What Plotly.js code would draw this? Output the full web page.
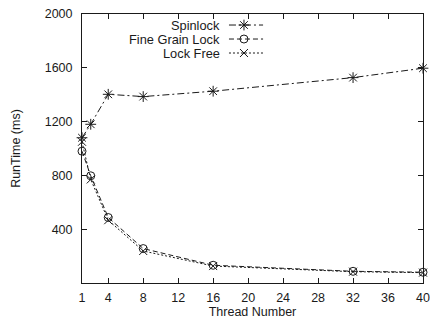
<!DOCTYPE html>
<html>
<head>
<meta charset="utf-8">
<script src="https://cdn.plot.ly/plotly-3.0.1.min.js"></script>
<style>html,body{margin:0;padding:0;background:#fff;}#chart{width:430px;height:323px;}</style>
</head>
<body>
<div id="chart"></div>
<script>
const threads = [1, 2, 4, 8, 16, 32, 40];
const spinlock = [1080, 1180, 1403, 1386, 1426, 1527, 1597];
const fineGrain = [980, 797, 487, 256, 132, 87, 80];
const lockFree = [1050, 770, 467, 238, 126, 84, 77];
const seriesNames = ['Spinlock', 'Fine Grain Lock', 'Lock Free'];
const xTicks = [1, 4, 8, 12, 16, 20, 24, 28, 32, 36, 40];
const yTicks = [400, 800, 1200, 1600, 2000];

const font = 'Liberation Sans, Arial, Helvetica, sans-serif';
const ink = '#1a1a1a';
const styles = [
  {dash: '7px,3px,2px,3px', symbol: 'asterisk-open', size: 9},
  {dash: '5px,3px', symbol: 'circle-open', size: 8},
  {dash: '2px,2px', symbol: 'x-thin-open', size: 8}
];
const values = [spinlock, fineGrain, lockFree];

const traces = values.map((v, i) => ({
  x: threads, y: v, type: 'scatter', mode: 'lines+markers',
  name: seriesNames[i], showlegend: false, cliponaxis: false,
  line: {color: ink, width: 1, dash: styles[i].dash},
  marker: {symbol: styles[i].symbol, size: styles[i].size, color: ink,
           line: {color: ink, width: 1}}
}));

// custom legend keys (gnuplot style: text on the left, sample on the right)
const keyRows = [0.959, 0.907, 0.855];
const keyX0 = 0.431, keyX1 = 0.531, keyXm = 0.475;
values.forEach((v, i) => {
  traces.push({
    x: [keyX0, keyX1], y: [keyRows[i], keyRows[i]], xaxis: 'x2', yaxis: 'y2',
    type: 'scatter', mode: 'lines', showlegend: false, hoverinfo: 'skip',
    line: {color: ink, width: 1, dash: styles[i].dash}
  });
  traces.push({
    x: [keyXm], y: [keyRows[i]], xaxis: 'x2', yaxis: 'y2',
    type: 'scatter', mode: 'markers', showlegend: false, hoverinfo: 'skip',
    marker: {symbol: styles[i].symbol, size: styles[i].size, color: ink,
             line: {color: ink, width: 1}}
  });
});

const annotations = seriesNames.map((n, i) => ({
  text: n, xref: 'paper', yref: 'paper', x: 0.41, y: keyRows[i],
  xanchor: 'right', yanchor: 'middle', showarrow: false,
  font: {family: font, size: 12.8, color: ink}
}));

const layout = {
  width: 430, height: 323,
  margin: {l: 82, r: 7, t: 14, b: 40},
  paper_bgcolor: '#fff', plot_bgcolor: '#fff',
  showlegend: false,
  font: {family: font, size: 12.5, color: ink},
  xaxis: {
    range: [1, 40], tickvals: xTicks, ticktext: xTicks.map(String),
    showgrid: false, zeroline: false, showline: true, linecolor: ink, linewidth: 1,
    mirror: 'ticks', ticks: 'inside', ticklen: 5, tickcolor: ink, tickwidth: 1,
    ticklabelstandoff: 3,
    tickfont: {family: font, size: 12.5, color: ink},
    title: {text: 'Thread Number', standoff: 3, font: {family: font, size: 12.5, color: ink}}
  },
  yaxis: {
    range: [0, 2000], tickvals: yTicks, ticktext: yTicks.map(String),
    showgrid: false, zeroline: false, showline: true, linecolor: ink, linewidth: 1,
    mirror: 'ticks', ticks: 'inside', ticklen: 5, tickcolor: ink, tickwidth: 1,
    ticklabelstandoff: 6,
    tickfont: {family: font, size: 12.5, color: ink},
    title: {text: 'RunTime (ms)', standoff: 21, font: {family: font, size: 12.5, color: ink}}
  },
  xaxis2: {overlaying: 'x', anchor: 'y2', range: [0, 1], visible: false, fixedrange: true},
  yaxis2: {overlaying: 'y', anchor: 'x2', range: [0, 1], visible: false, fixedrange: true},
  annotations: annotations
};

Plotly.newPlot('chart', traces, layout, {staticPlot: true, displayModeBar: false});
</script>
</body>
</html>
